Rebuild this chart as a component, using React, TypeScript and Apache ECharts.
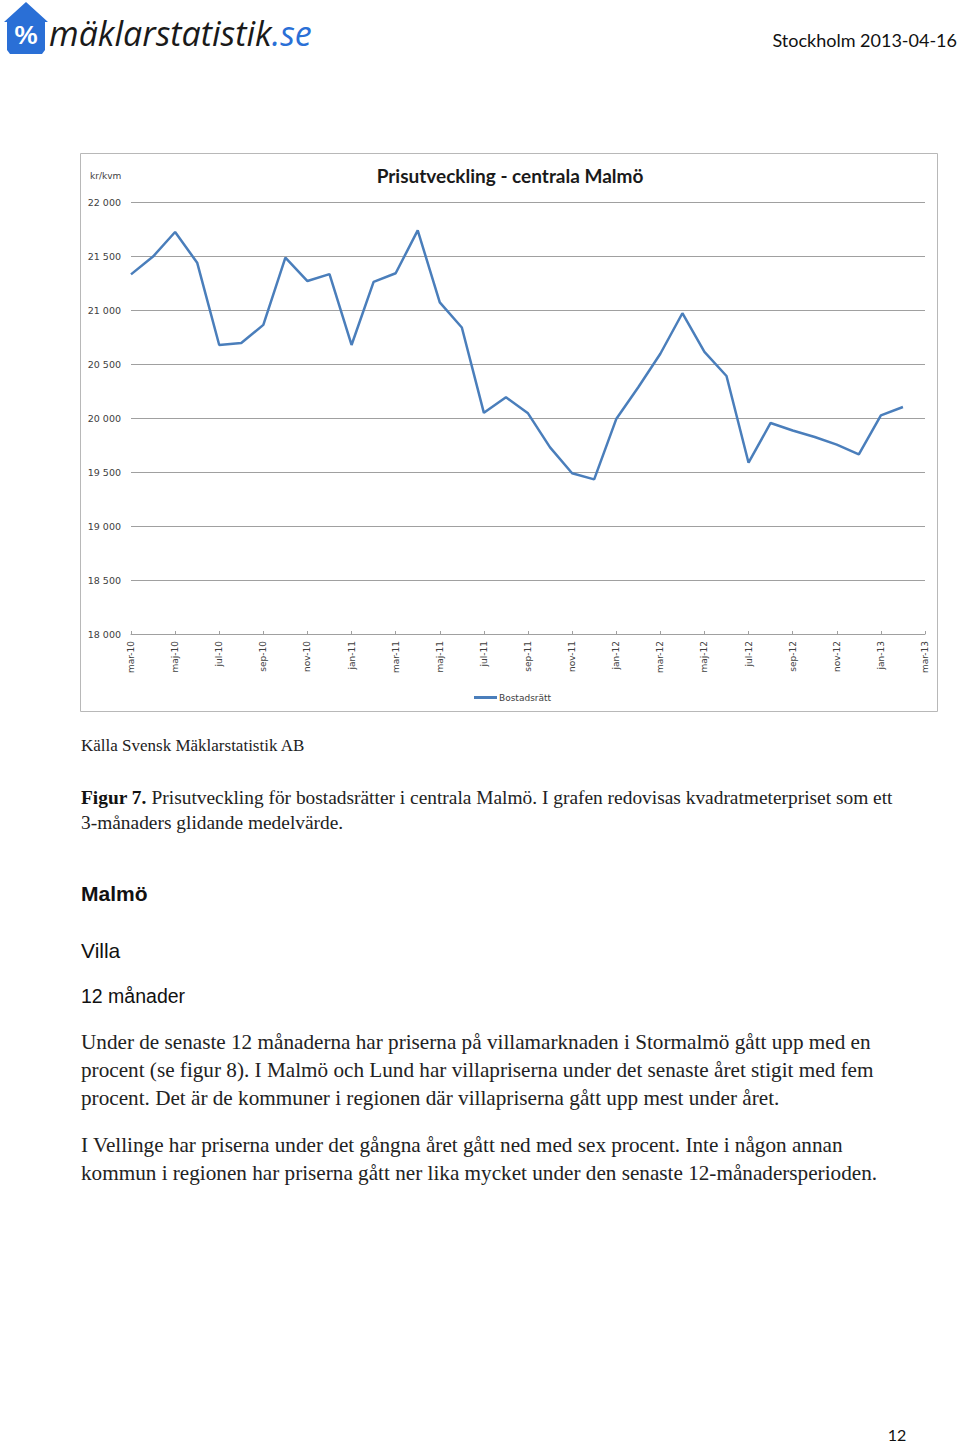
import React, { useEffect, useRef } from "react";
import * as echarts from "echarts";

const categories = [
  "mar-10","apr-10","maj-10","jun-10","jul-10","aug-10","sep-10","okt-10","nov-10","dec-10",
  "jan-11","feb-11","mar-11","apr-11","maj-11","jun-11","jul-11","aug-11","sep-11","okt-11","nov-11","dec-11",
  "jan-12","feb-12","mar-12","apr-12","maj-12","jun-12","jul-12","aug-12","sep-12","okt-12","nov-12","dec-12",
  "jan-13","feb-13","mar-13",
];

const bostadsratt: (number | null)[] = [
  21330, 21495, 21722, 21438, 20676, 20694, 20862, 21485, 21268, 21332,
  20676, 21260, 21340, 21737, 21071, 20838, 20048, 20192, 20043, 19728, 19488, 19432,
  19990, 20285, 20595, 20970, 20613, 20389, 19586, 19954, 19884, 19824, 19753, 19664,
  20024, 20102, null,
];

const seriesName = "Bostadsrätt";
const chartTitle = "Prisutveckling - centrala Malmö";
const unitLabel = "kr/kvm";
const yMin = 18000;
const yMax = 22000;
const yStep = 500;

const headerDate = "Stockholm 2013-04-16";
const sourceLine = "Källa Svensk Mäklarstatistik AB";
const captionLines = [
  "Prisutveckling för bostadsrätter i centrala Malmö. I grafen redovisas kvadratmeterpriset som ett",
  "3-månaders glidande medelvärde.",
];
const para1 = [
  "Under de senaste 12 månaderna har priserna på villamarknaden i Stormalmö gått upp med en",
  "procent (se figur 8). I Malmö och Lund har villapriserna under det senaste året stigit med fem",
  "procent. Det är de kommuner i regionen där villapriserna gått upp mest under året.",
];
const para2 = [
  "I Vellinge har priserna under det gångna året gått ned med sex procent. Inte i någon annan",
  "kommun i regionen har priserna gått ner lika mycket under den senaste 12-månadersperioden.",
];

const fmt = (v: number) => String(v).replace(/\B(?=(\d{3})+(?!\d))/g, " ");

const SERIF = "'Liberation Serif', 'DejaVu Serif', serif";
const SANS = "'Liberation Sans', Arial, sans-serif";
const CAL = "Lato, 'Open Sans', sans-serif";
const AX = "'DejaVu Sans', Verdana, sans-serif";

function txt(x: number, y: number, text: string, font: string, fill = "#111", align = "left") {
  return {
    type: "text",
    x,
    y,
    silent: true,
    style: { text, font, fill, align, verticalAlign: "middle" },
  };
}

export default function App() {
  const ref = useRef<HTMLDivElement>(null);

  useEffect(() => {
    document.body.style.margin = "0";
    const chart = echarts.init(ref.current!, null, { renderer: "svg" });

    const graphic: any[] = [
      {
        type: "rect",
        silent: true,
        shape: { x: 80.5, y: 153.5, width: 857, height: 558 },
        style: { fill: "none", stroke: "#b8b8b8", lineWidth: 1 },
        z: -1,
      },
      {
        type: "polygon",
        silent: true,
        shape: {
          points: [
            [4, 22], [26, 2], [48, 22], [45, 22], [45, 50], [42, 54],
            [10, 54], [7, 50], [7, 22],
          ],
        },
        style: { fill: "#2a6fd6" },
      },
      txt(26, 35, "%", `bold 26px ${SANS}`, "#ffffff", "center"),
      {
        type: "text",
        x: 49,
        y: 33,
        silent: true,
        style: {
          text: "{a|mäklarstatistik}{b|.se}",
          verticalAlign: "middle",
          align: "left",
          rich: {
            a: { font: `italic 34px 'Open Sans', sans-serif`, fill: "#1a1a1a" },
            b: { font: `italic 34px 'Open Sans', sans-serif`, fill: "#2a6fd6" },
          },
        },
      },
      txt(957, 40, headerDate, `18px ${CAL}`, "#111", "right"),
      txt(510, 175, chartTitle, `bold 19px ${CAL}`, "#1a1a1a", "center"),
      txt(90, 176, unitLabel, `9px ${AX}`, "#404040", "left"),
      txt(81, 745, sourceLine, `17px ${SERIF}`, "#222"),
      {
        type: "text",
        x: 81,
        y: 797,
        silent: true,
        style: {
          text: "{b|Figur 7.}{r| " + captionLines[0] + "}",
          verticalAlign: "middle",
          align: "left",
          rich: {
            b: { font: `bold 19.4px ${SERIF}`, fill: "#111" },
            r: { font: `19.4px ${SERIF}`, fill: "#222" },
          },
        },
      },
      txt(81, 822, captionLines[1], `19.4px ${SERIF}`, "#222"),
      txt(81, 893, "Malmö", `bold 21px ${SANS}`, "#111"),
      txt(81, 950, "Villa", `21px ${SANS}`, "#111"),
      txt(81, 996, "12 månader", `19.5px ${SANS}`, "#111"),
      ...para1.map((l, i) => txt(81, 1042 + i * 28, l, `21.2px ${SERIF}`, "#222")),
      ...para2.map((l, i) => txt(81, 1145 + i * 28, l, `21.2px ${SERIF}`, "#222")),
      txt(897, 1434, "12", `16px ${CAL}`, "#111", "center"),
    ];

    chart.setOption({
      animation: false,
      backgroundColor: "#ffffff",
      grid: { left: 131, right: 35, top: 202, bottom: 1443 - 634, containLabel: false },
      legend: {
        data: [{ name: seriesName, icon: "rect" }],
        left: 469,
        top: 688,
        itemWidth: 23,
        itemHeight: 3,
        itemGap: 4,
        textStyle: { fontFamily: AX, fontSize: 9, color: "#404040", padding: [0, 0, 0, -3] },
      },
      xAxis: {
        type: "category",
        data: categories,
        boundaryGap: false,
        axisLine: { lineStyle: { color: "#a0a0a0", width: 1 } },
        axisTick: { show: true, inside: true, length: 3, interval: 1, lineStyle: { color: "#a0a0a0" } },
        axisLabel: {
          interval: 1,
          rotate: 90,
          margin: 7,
          fontFamily: AX,
          fontSize: 9,
          color: "#404040",
        },
        splitLine: { show: false },
      },
      yAxis: {
        type: "value",
        min: yMin,
        max: yMax,
        interval: yStep,
        axisLine: { show: false },
        axisTick: { show: false },
        axisLabel: {
          margin: 10,
          fontFamily: AX,
          fontSize: 9.5,
          color: "#404040",
          formatter: (v: number) => fmt(v),
        },
        splitLine: { lineStyle: { color: "#a0a0a0", width: 1 } },
      },
      series: [
        {
          name: seriesName,
          type: "line",
          data: bostadsratt,
          symbol: "none",
          showSymbol: false,
          lineStyle: { color: "#4a7ebb", width: 2.5 },
          itemStyle: { color: "#4a7ebb" },
          connectNulls: false,
        },
      ],
      graphic,
    });

    return () => chart.dispose();
  }, []);

  return (
    <div
      ref={ref}
      style={{ position: "absolute", left: 0, top: 0, width: 960, height: 1443, background: "#fff" }}
    />
  );
}
